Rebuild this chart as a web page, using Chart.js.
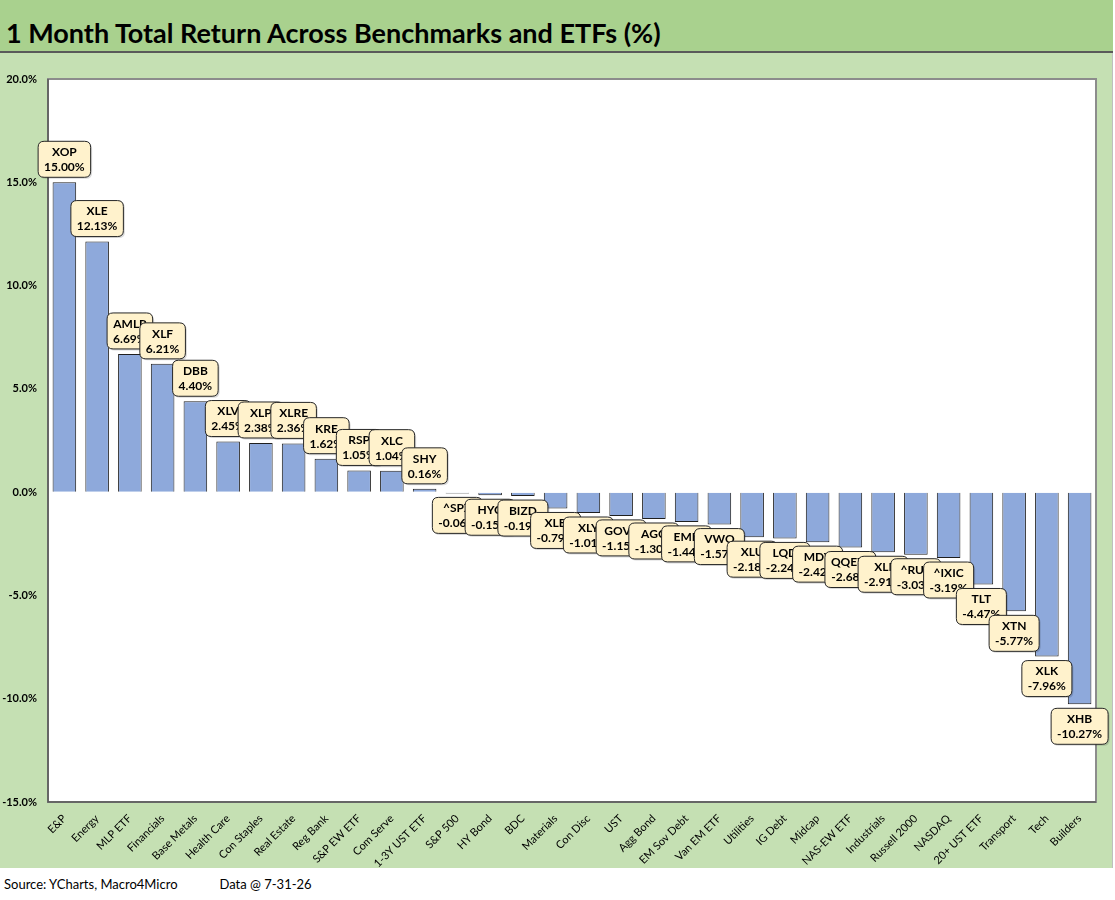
<!DOCTYPE html>
<html>
<head>
<meta charset="utf-8">
<script src="https://cdn.jsdelivr.net/npm/chart.js@4.4.1/dist/chart.umd.min.js"></script>
<style>
  body { margin: 0; background: #fff; font-family: Lato, "Open Sans", sans-serif; }
  #title {
    position: absolute; left: 0; top: 0; width: 1113px; height: 51px;
    background: #A9D18E; border-bottom: 2px solid #5a5a5a;
  }
  #title span {
    position: absolute; left: 6px; top: 16px;
    font-size: 27px; font-weight: bold; color: #000; white-space: nowrap;
  }
  #box {
    position: absolute; left: 0; top: 53px; width: 1112px; height: 815px;
    background: #C5E0B3; border-right: 1px solid #bfbfbf;
  }
  #foot {
    position: absolute; left: 4px; top: 876px; font-size: 13px; color: #000; white-space: nowrap;
  }
</style>
</head>
<body>
<div id="title"><span>1 Month Total Return Across Benchmarks and ETFs (%)</span></div>
<div id="box"><canvas id="bars"></canvas></div>
<div id="foot">Source: YCharts, Macro4Micro<span style="margin-left:42px">Data @ 7-31-26</span></div>
<script>
// categories, tickers and 1 month total returns (%)
var categories = ['E&P', 'Energy', 'MLP ETF', 'Financials', 'Base Metals', 'Health Care', 'Con Staples',
    'Real Estate', 'Reg Bank', 'S&P EW ETF', 'Com Serve', '1-3Y UST ETF', 'S&P 500', 'HY Bond', 'BDC',
    'Materials', 'Con Disc', 'UST', 'Agg Bond', 'EM Sov Debt', 'Van EM ETF', 'Utilities', 'IG Debt',
    'Midcap', 'NAS-EW ETF', 'Industrials', 'Russell 2000', 'NASDAQ', '20+ UST ETF', 'Transport', 'Tech', 'Builders'];
var tickers = ['XOP', 'XLE', 'AMLP', 'XLF', 'DBB', 'XLV', 'XLP', 'XLRE', 'KRE', 'RSP', 'XLC', 'SHY',
    '^SPX', 'HYG', 'BIZD', 'XLB', 'XLY', 'GOVT', 'AGG', 'EMB', 'VWO', 'XLU', 'LQD', 'MDY', 'QQEW',
    'XLI', '^RUT', '^IXIC', 'TLT', 'XTN', 'XLK', 'XHB'];
var returns = [15.00, 12.13, 6.69, 6.21, 4.40, 2.45, 2.38, 2.36, 1.62, 1.05, 1.04, 0.16,
    -0.06, -0.15, -0.19, -0.79, -1.01, -1.15, -1.30, -1.44, -1.57, -2.18, -2.24, -2.42, -2.68,
    -2.91, -3.03, -3.19, -4.47, -5.77, -7.96, -10.27];
var yMin = -15, yMax = 20, yStep = 5;

function roundRect(c, x, y, w, h, r) {
    c.beginPath();
    c.moveTo(x + r, y);
    c.lineTo(x + w - r, y);
    c.quadraticCurveTo(x + w, y, x + w, y + r);
    c.lineTo(x + w, y + h - r);
    c.quadraticCurveTo(x + w, y + h, x + w - r, y + h);
    c.lineTo(x + r, y + h);
    c.quadraticCurveTo(x, y + h, x, y + h - r);
    c.lineTo(x, y + r);
    c.quadraticCurveTo(x, y, x + r, y);
    c.closePath();
}

// plot frame + callout labels
var callouts = {
    id: 'callouts',
    beforeDatasetsDraw: function (chart) {
        var c = chart.ctx, a = chart.chartArea;
        c.save();
        c.fillStyle = '#fff';
        c.fillRect(a.left, a.top, a.right - a.left, a.bottom - a.top);
        c.restore();
    },
    afterDatasetsDraw: function (chart) {
        var c = chart.ctx, a = chart.chartArea;
        c.save();
        c.strokeStyle = '#8c8c8c';
        c.lineWidth = 2;
        c.strokeRect(a.left, a.top, a.right - a.left, a.bottom - a.top);
        c.strokeStyle = '#595959';
        c.lineWidth = 1.5;
        c.beginPath();
        c.moveTo(a.left, a.top);
        c.lineTo(a.left, a.bottom);
        c.lineTo(a.right, a.bottom);
        c.stroke();

        var meta = chart.getDatasetMeta(0);
        c.font = 'bold 12px Lato, sans-serif';
        c.textAlign = 'center';
        c.textBaseline = 'middle';
        meta.data.forEach(function (bar, i) {
            var v = returns[i];
            var t1 = tickers[i], t2 = v.toFixed(2) + '%';
            var w = Math.max(c.measureText(t1).width, c.measureText(t2).width) + 12;
            var h = 36;
            var x = bar.x - w / 2;
            var y = v >= 0 ? bar.y - 5 - h : bar.y + 4;
            c.fillStyle = 'rgba(0,0,0,0.15)';
            roundRect(c, x + 1.5, y + 1.5, w, h, 6);
            c.fill();
            c.fillStyle = '#FFF2CC';
            c.strokeStyle = '#262626';
            c.lineWidth = 1;
            roundRect(c, x, y, w, h, 6);
            c.fill();
            c.stroke();
            c.fillStyle = '#000';
            c.fillText(t1, bar.x, y + 11);
            c.fillText(t2, bar.x, y + 26);
        });
        c.restore();
    }
};

var ctx = document.getElementById('bars').getContext('2d');
var chart = new Chart(ctx, {
    type: 'bar',
    data: {
        labels: categories,
        datasets: [{
            label: '1 Month Total Return',
            data: returns,
            backgroundColor: '#8EA9DB',
            borderColor: '#1f1f1f',
            borderWidth: 1,
            barPercentage: 0.72,
            categoryPercentage: 1
        }]
    },
    options: {
        responsive: true,
        maintainAspectRatio: false,
        animation: false,
        layout: { padding: { top: 26, right: 16, left: 0, bottom: 0 } },
        plugins: { legend: { display: false }, tooltip: { enabled: false } },
        scales: {
            x: {
                grid: { display: false },
                border: { display: false },
                ticks: {
                    color: '#000',
                    font: { family: 'Lato', size: 11 },
                    maxRotation: 45,
                    minRotation: 45,
                    autoSkip: false,
                    padding: 2
                },
                afterFit: function (s) { s.height = 66; }
            },
            y: {
                min: yMin,
                max: yMax,
                grid: { color: '#D9D9D9', drawTicks: false },
                border: { display: false },
                ticks: {
                    stepSize: yStep,
                    color: '#000',
                    font: { family: 'Lato', size: 11, weight: 'bold' },
                    padding: 11,
                    callback: function (v) { return v.toFixed(1) + '%'; }
                },
                afterFit: function (s) { s.width = 48; }
            }
        }
    },
    plugins: [callouts]
});
</script>
</body>
</html>
